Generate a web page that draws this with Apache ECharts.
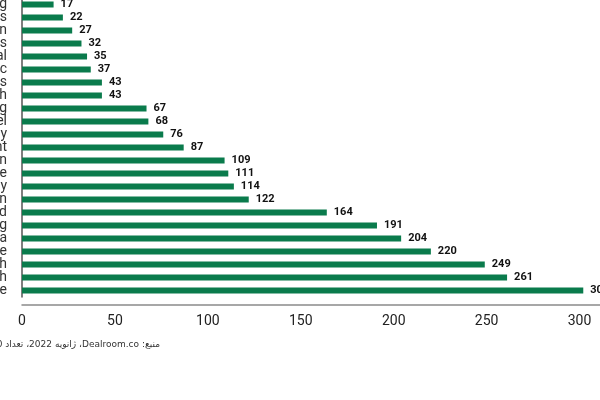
<!DOCTYPE html>
<html>
<head>
<meta charset="utf-8">
<script src="https://cdn.jsdelivr.net/npm/echarts@6/dist/echarts.min.js"></script>
<style>
  html, body { margin: 0; padding: 0; background: #fff; }
  #chart { width: 600px; height: 400px; }
</style>
</head>
<body>
<div id="chart"></div>
<script>
// 行业 (只能看到最后一个字母, 名称为推测)
const industries = [
  'home living', 'semiconductors', 'fashion', 'kids', 'legal', 'music',
  'sports', 'event tech', 'gaming', 'travel', 'security', 'jobs recruitment',
  'education', 'real estate', 'energy', 'transportation', 'food', 'marketing',
  'media', 'e-commerce & commerce', 'health', 'fintech', 'enterprise software'
]
// 创业公司数量
const startupCounts = [
  17, 22, 27, 32, 35, 37,
  43, 43, 67, 68, 76, 87,
  109, 111, 114, 122, 164, 191,
  204, 220, 249, 261, 302
]
const xTicks = [0, 50, 100, 150, 200, 250, 300]
const sourceNote = 'منبع: Dealroom.co، ژانویه 2022، تعداد 2610 =استارت‌آپ'

const chartInstance = echarts.init(document.getElementById('chart'), null, { renderer: 'canvas' })
const option = {
  animation: false,
  backgroundColor: '#ffffff',
  textStyle: { fontFamily: 'Roboto, "Open Sans", sans-serif' },
  grid: {
    left: 22,
    right: 0,
    top: -2,
    bottom: 103,
    containLabel: false,
    outerBoundsMode: 'none'
  },
  xAxis: {
    type: 'value',
    min: xTicks[0],
    max: 311,
    interval: 50,
    offset: 8,
    splitLine: { show: false },
    axisTick: { show: false },
    axisLine: { show: true, lineStyle: { color: '#8a8a8a', width: 1.5 } },
    axisLabel: {
      color: '#222',
      fontSize: 14,
      margin: 9,
      showMaxLabel: false,
      formatter: (v) => (xTicks.includes(v) ? String(v) : '')
    }
  },
  yAxis: {
    type: 'category',
    inverse: true,
    data: industries,
    axisTick: { show: false },
    axisLine: { show: true, lineStyle: { color: '#555', width: 1.5 } },
    axisLabel: {
      interval: 0,
      color: '#333',
      fontSize: 14,
      margin: 15
    }
  },
  series: [
    {
      type: 'bar',
      data: startupCounts,
      barWidth: 6,
      itemStyle: { color: '#0a7b4c' },
      label: {
        show: true,
        position: 'right',
        distance: 7,
        color: '#111',
        fontSize: 11,
        fontWeight: 'bold'
      }
    }
  ],
  graphic: [
    {
      type: 'text',
      right: 440,
      top: 340,
      style: {
        // 从右到左显示波斯语
        text: '\u202B' + sourceNote + '\u202C',
        fill: '#333',
        font: '9px "DejaVu Sans", "Noto Sans", sans-serif'
      }
    }
  ]
}
chartInstance.setOption(option)
</script>
</body>
</html>
